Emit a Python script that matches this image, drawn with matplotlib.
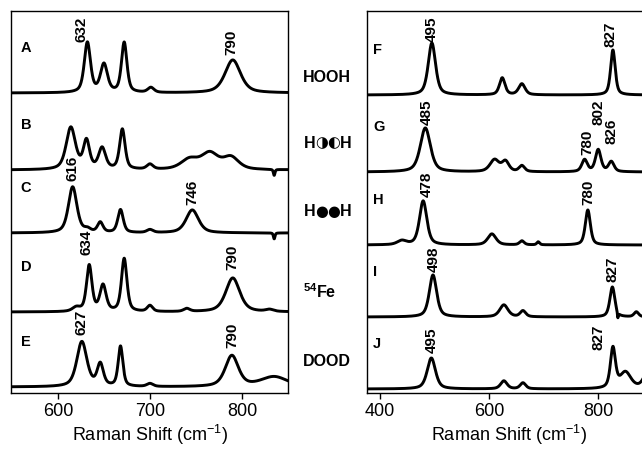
"""
stacked raman spectra, two panels
"""
import numpy as np
import matplotlib
matplotlib.use('Agg')
import matplotlib.pyplot as plt

plt.rcParams['font.family'] = ['Liberation Sans', 'DejaVu Sans']
plt.rcParams['mathtext.fontset'] = 'custom'
plt.rcParams['mathtext.rm'] = 'Liberation Sans'
plt.rcParams['mathtext.bf'] = 'Liberation Sans:bold'

# peak tables: centre (cm-1), height (px), fwhm (cm-1)
left_names = ['A', 'B', 'C', 'D', 'E']
left_centers = [
    [632, 650, 672, 701, 790],
    [614, 631, 648, 670, 700, 743, 765, 788, 835],
    [616, 632, 646, 668, 700, 746, 835],
    [620, 634, 649, 672, 700, 740, 790, 830],
    [626, 646, 668, 700, 789, 835],
]
left_heights = [
    [50, 28, 50, 5, 33],
    [42, 28, 21, 40, 5, 10, 16, 12, -6],
    [46, 3, 10, 23, 3, 23, -6],
    [4, 46, 26, 53, 6, 3, 34, 2],
    [45, 22, 40, 3, 31, 10],
]
left_widths = [
    [8, 9, 7, 8, 20],
    [12, 8, 9, 7, 8, 22, 22, 20, 2],
    [11, 8, 7, 7, 8, 16, 2],
    [10, 7, 8, 7, 7, 8, 18, 10],
    [13, 8, 6, 8, 17, 35],
]

right_names = ['F', 'G', 'H', 'I', 'J']
right_centers = [
    [495, 624, 660, 827],
    [483, 610, 630, 660, 775, 800, 824],
    [440, 479, 605, 660, 690, 781],
    [497, 627, 662, 826, 836, 870],
    [494, 627, 662, 827, 850, 893],
]
right_heights = [
    [52, 17, 11, 45],
    [44, 12, 10, 6, 12, 22, 10],
    [4, 44, 11, 4, 3, 35],
    [42, 12, 6, 30, -6, 5],
    [31, 8, 6, 40, 16, 20],
]
right_widths = [
    [16, 12, 14, 10],
    [22, 20, 15, 12, 12, 12, 12],
    [20, 16, 18, 10, 6, 11],
    [16, 18, 12, 11, 2, 10],
    [18, 14, 12, 11, 24, 20],
]

# peak labels: text, x, bottom of label above the baseline (px)
left_labels = [
    [('632', 626, 51), ('790', 789, 38)],
    [],
    [('616', 616, 52), ('746', 746, 28)],
    [('634', 631, 57), ('790', 790, 42)],
    [('627', 626, 52), ('790', 790, 39)],
]
right_labels = [
    [('495', 495, 53), ('827', 823, 48)],
    [('485', 485, 47), ('780', 781, 17), ('802', 800, 47), ('826', 824, 28)],
    [('478', 486, 48), ('780', 782, 40)],
    [('498', 499, 45), ('827', 826, 35)],
    [('495', 495, 36), ('827', 800, 39)],
]

# sample names; the labelled ones are split so the circles can be sized
samples = [
    ['HOOH'],
    ['H', '\u25d1', '\u25d0', 'H'],
    ['H', '\u25cf', '\u25cf', 'H'],
    [r'$\mathbf{^{54}Fe}$'],
    ['DOOD'],
]

left_offsets = [300, 223, 160, 81, 6]
right_offsets = [298, 221, 148, 76, 4]


def spectrum(x, centers, heights, widths, eta=0.55):
    y = np.zeros_like(x)
    for c, h, w in zip(centers, heights, widths):
        hw = w / 2.0
        lor = 1.0 / (1.0 + ((x - c) / hw) ** 2)
        gau = np.exp(-np.log(2) * ((x - c) / hw) ** 2)
        y += h * (eta * lor + (1 - eta) * gau)
    return y


def draw_panel(ax, x, names, centers, heights, widths, labels, offsets):
    for i in range(len(names)):
        y = spectrum(x, centers[i], heights[i], widths[i]) + offsets[i]
        ax.plot(x, y, color='black', lw=2.1, solid_joinstyle='round')
        ax.text(0.035 if x[0] > 500 else 0.022, offsets[i] + 45, names[i],
                transform=ax.get_yaxis_transform(), fontsize=10.5,
                fontweight='bold', va='center', ha='left')
        for txt, lx, ly in labels[i]:
            ax.text(lx, offsets[i] + ly, txt, rotation=90, fontsize=11,
                    fontweight='bold', ha='center', va='bottom')
    ax.set_ylim(0, 382)
    ax.set_yticks([])
    ax.tick_params(axis='x', direction='out', length=4, width=1,
                   labelsize=13, pad=3)
    for s in ax.spines.values():
        s.set_linewidth(1.0)
    ax.set_xlabel(r'Raman Shift (cm$^{-1}$)', fontsize=13, labelpad=2)


fig = plt.figure(figsize=(6.42, 4.5), dpi=100)

ax1 = fig.add_axes([11 / 642, 1 - 393 / 450, 277 / 642, 382 / 450])
x1 = np.linspace(549, 850, 1500)
ax1.set_xlim(549, 850)
ax1.set_xticks([600, 700, 800])
draw_panel(ax1, x1, left_names, left_centers, left_heights, left_widths,
           left_labels, left_offsets)

ax2 = fig.add_axes([367 / 642, 1 - 393 / 450, 283 / 642, 382 / 450])
x2 = np.linspace(376, 895, 1500)
ax2.set_xlim(376, 895)
ax2.set_xticks([400, 600, 800])
draw_panel(ax2, x2, right_names, right_centers, right_heights, right_widths,
           right_labels, right_offsets)

label_y = [78, 143, 212, 292, 362]
piece_x = [310, 322, 334, 346]
for pieces, py in zip(samples, label_y):
    if len(pieces) == 1:
        fig.text(303 / 642, 1 - py / 450, pieces[0], fontsize=11.5,
                 fontweight='bold', va='center', ha='left')
        continue
    for piece, px in zip(pieces, piece_x):
        big = piece != 'H'
        fig.text(px / 642, 1 - py / 450, piece,
                 fontsize=10.5 if big else 11.5, fontweight='bold',
                 family='DejaVu Sans' if big else 'Liberation Sans',
                 va='center', ha='center')

fig.savefig('out.png', dpi=100)
